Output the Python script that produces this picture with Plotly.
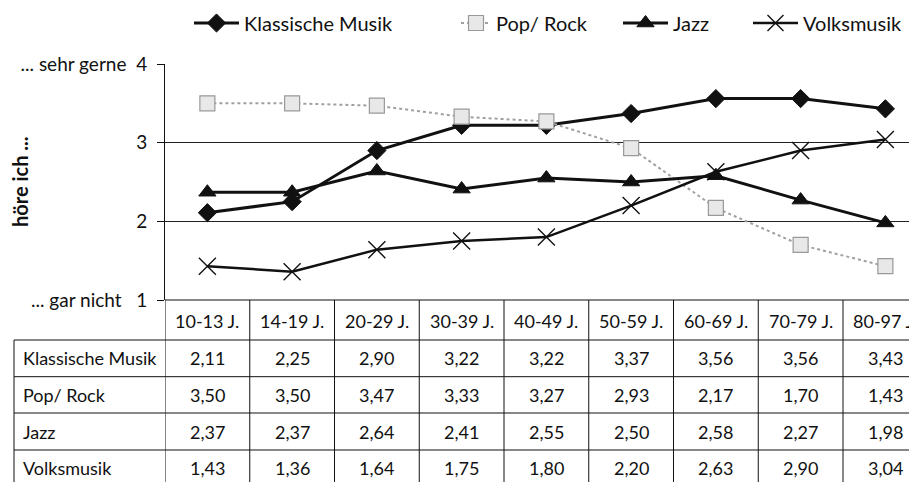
import plotly.graph_objects as go

# ---------------- data ----------------
categories = ["10-13 J.", "14-19 J.", "20-29 J.", "30-39 J.", "40-49 J.",
              "50-59 J.", "60-69 J.", "70-79 J.", "80-97 J."]
klassik = [2.11, 2.25, 2.90, 3.22, 3.22, 3.37, 3.56, 3.56, 3.43]
pop_rock = [3.50, 3.50, 3.47, 3.33, 3.27, 2.93, 2.17, 1.70, 1.43]
jazz = [2.37, 2.37, 2.64, 2.41, 2.55, 2.50, 2.58, 2.27, 1.98]
volks = [1.43, 1.36, 1.64, 1.75, 1.80, 2.20, 2.63, 2.90, 3.04]
series_names = ["Klassische Musik", "Pop/ Rock", "Jazz", "Volksmusik"]
series_values = [klassik, pop_rock, jazz, volks]
ytick_vals = [1, 2, 3, 4]
ytick_text = ["... gar nicht   1", "2", "3", "... sehr gerne  4"]
y_title = "höre ich ..."

# ---------------- layout constants (screen pixels) ----------------
W, H = 917, 482
OFF = 8                      # default body margin of the html page
LM = 165 - OFF               # left margin in layout pixels
FONT = "Lato"
chart_top_px, chart_bot_px = 64, 300
row_edges_px = [300, 340, 376.7, 413, 450]
row_centers_px = [321, 358, 395, 431.5, 468]
label_left_px = 14
col_px = 84.75
legend_starts_px = [196, 463, 625, 755]
legend_itemwidths = [45, 30, 45, 45]
legend_center_px = 23


def py(px):
    return 1 - (px - OFF) / H


def pxx(px):
    return (px - OFF - LM) / (W - LM)


styles = [
    dict(line=dict(color="#111", width=3),
         marker=dict(symbol="diamond", size=14, color="#111",
                     line=dict(color="#111", width=1))),
    dict(line=dict(color="#a0a0a0", width=2, dash="dot"),
         marker=dict(symbol="square", size=15, color="#e8e8e8",
                     line=dict(color="#999", width=1.2))),
    dict(line=dict(color="#111", width=3),
         marker=dict(symbol="triangle-up", size=15, color="#111",
                     line=dict(color="#111", width=1))),
    dict(line=dict(color="#111", width=2.5),
         marker=dict(symbol="x-thin", size=17, color="#111",
                     line=dict(color="#111", width=1.4))),
]
legend_ids = ["legend", "legend2", "legend3", "legend4"]

fig = go.Figure()
for name, vals, st, lid in zip(series_names, series_values, styles, legend_ids):
    fig.add_trace(go.Scatter(x=categories, y=vals, name=name, legend=lid,
                             mode="lines+markers", **st))

shapes = []
n = len(categories)
for i, ypx in enumerate(row_edges_px):
    if i == 0:
        shapes.append(dict(type="line", xref="x", yref="paper",
                           x0=-0.5, x1=n - 0.5, y0=py(ypx), y1=py(ypx),
                           line=dict(color="#111", width=1)))
    else:
        shapes.append(dict(type="line", xref="paper", yref="paper",
                           x0=pxx(label_left_px), x1=1, y0=py(ypx), y1=py(ypx),
                           line=dict(color="#111", width=1)))
for k in range(n + 1):
    shapes.append(dict(type="line", xref="x", yref="paper",
                       x0=k - 0.5, x1=k - 0.5, y0=py(row_edges_px[0]), y1=0,
                       line=dict(color="#111", width=1)))
shapes.append(dict(type="line", xref="paper", yref="paper",
                   x0=pxx(label_left_px), x1=pxx(label_left_px),
                   y0=py(row_edges_px[1]), y1=0,
                   line=dict(color="#111", width=1)))

annotations = []
tfont = dict(family=FONT, size=18, color="#111")
for cat in categories:
    annotations.append(dict(x=cat, y=py(row_centers_px[0]), xref="x", yref="paper",
                            text=cat, showarrow=False, font=tfont,
                            xanchor="center", yanchor="middle"))
for r, (name, vals) in enumerate(zip(series_names, series_values)):
    yc = py(row_centers_px[r + 1])
    annotations.append(dict(x=pxx(21), y=yc, xref="paper", yref="paper",
                            text=name, showarrow=False, font=tfont,
                            xanchor="left", yanchor="middle"))
    for cat, v in zip(categories, vals):
        annotations.append(dict(x=cat, y=yc, xref="x", yref="paper",
                                text=f"{v:.2f}".replace(".", ","),
                                showarrow=False, font=tfont,
                                xanchor="center", yanchor="middle"))
annotations.append(dict(x=pxx(20), y=py(182), xref="paper", yref="paper",
                        text=f"<b>{y_title}</b>", textangle=-90, showarrow=False,
                        font=dict(family=FONT, size=20, color="#111"),
                        xanchor="center", yanchor="middle"))

legend_layouts = {}
for lid, sx, iw in zip(legend_ids, legend_starts_px, legend_itemwidths):
    legend_layouts[lid] = dict(
        orientation="h", x=pxx(sx - 7), xanchor="left",
        y=py(legend_center_px), yanchor="middle", itemwidth=iw,
        font=dict(family=FONT, size=20, color="#111"),
        bgcolor="rgba(0,0,0,0)")

fig.update_layout(
    width=W, height=H,
    margin=dict(l=LM, r=0, t=0, b=0, autoexpand=False),
    paper_bgcolor="white", plot_bgcolor="white",
    font=dict(family=FONT, size=18, color="#111"),
    showlegend=True,
    xaxis=dict(type="category", range=[-0.5, -0.5 + (W - LM) / col_px],
               showticklabels=False, showgrid=False, zeroline=False,
               showline=False, ticks="", automargin=False),
    yaxis=dict(domain=[py(chart_bot_px), py(chart_top_px)], range=[1, 4],
               tickvals=ytick_vals, ticktext=ytick_text,
               showgrid=True, gridcolor="#222", gridwidth=1,
               showline=True, linecolor="#111", linewidth=1,
               ticks="outside", ticklen=7, tickcolor="#111",
               ticklabelstandoff=6, zeroline=False, automargin=False,
               tickfont=dict(family=FONT, size=19, color="#111")),
    shapes=shapes,
    annotations=annotations,
    **legend_layouts,
)

fig.write_html("out.html")
